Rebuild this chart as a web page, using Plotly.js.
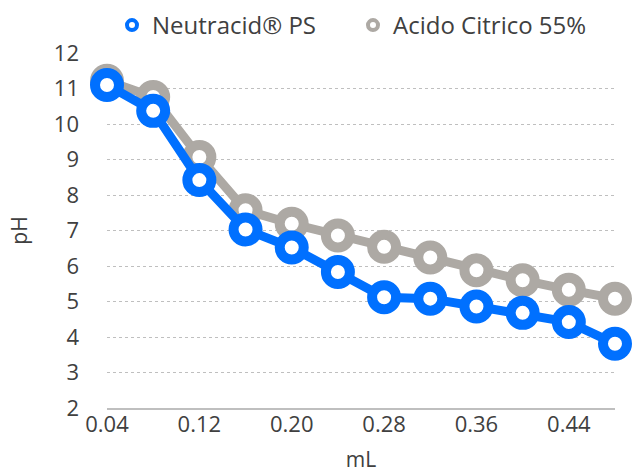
<!DOCTYPE html>
<html>
<head>
<meta charset="utf-8">
<script src="https://cdn.plot.ly/plotly-3.0.1.min.js"></script>
<style>html,body{margin:0;padding:0;background:#fff;}#chart{width:639px;height:473px;}</style>
</head>
<body>
<div id="chart"></div>
<script>
var volumes = [0.04, 0.08, 0.12, 0.16, 0.20, 0.24, 0.28, 0.32, 0.36, 0.40, 0.44, 0.48];
var neutracid = [11.1, 10.37, 8.42, 7.03, 6.52, 5.83, 5.12, 5.08, 4.86, 4.68, 4.42, 3.81];
var citrico = [11.22, 10.76, 9.07, 7.57, 7.19, 6.86, 6.54, 6.24, 5.88, 5.6, 5.33, 5.08];
var seriesNames = ['Neutracid® PS', 'Acido Citrico 55%'];
var xTicks = [0.04, 0.12, 0.20, 0.28, 0.36, 0.44];
var xTickText = ['0.04', '0.12', '0.20', '0.28', '0.36', '0.44'];
var yTicks = [2, 3, 4, 5, 6, 7, 8, 9, 10, 11, 12];

var fontFam = 'Open Sans, Lato, sans-serif';
var txtColor = '#404040';
var gray = '#ADA9A4';
var blue = '#0070FF';

function trace(y, name, color) {
  return {
    x: volumes, y: y, name: name, type: 'scatter', mode: 'lines+markers',
    cliponaxis: false, showlegend: false,
    line: {color: color, width: 9},
    marker: {symbol: 'circle', size: 24, color: '#ffffff', line: {color: color, width: 10}}
  };
}
function legendTrace(name, color) {
  return {
    x: [null], y: [null], name: name, type: 'scatter', mode: 'markers',
    showlegend: true,
    marker: {symbol: 'circle', size: 10, color: '#ffffff', line: {color: color, width: 4}}
  };
}

var data = [
  trace(citrico, seriesNames[1], gray),
  trace(neutracid, seriesNames[0], blue),
  legendTrace(seriesNames[0], blue),
  legendTrace(seriesNames[1], gray)
];

var layout = {
  width: 639, height: 473,
  margin: {l: 107, r: 24, t: 53, b: 65},
  paper_bgcolor: '#ffffff', plot_bgcolor: '#ffffff',
  font: {family: fontFam, color: txtColor, size: 22},
  showlegend: true,
  legend: {orientation: 'h', xref: 'container', yref: 'container',
           x: 112 / 639, xanchor: 'left', y: 1 - 3 / 473, yanchor: 'top',
           entrywidth: 196, entrywidthmode: 'pixels',
           font: {size: 24, color: txtColor}},
  xaxis: {
    range: [0.04, 0.48], tickvals: xTicks, ticktext: xTickText,
    showgrid: false, zeroline: false, showline: true, linecolor: '#BFBFBF', linewidth: 2,
    ticks: '', ticklabelstandoff: -4, tickfont: {size: 22, color: txtColor},
    title: {text: 'mL', font: {size: 21, color: txtColor}, standoff: 15}
  },
  yaxis: {
    range: [2, 12], tickvals: yTicks,
    showgrid: true, gridcolor: '#BFBFBF', griddash: 'dot', gridwidth: 1,
    zeroline: false, showline: false, ticks: '', ticklabelstandoff: 27,
    tickfont: {size: 22, color: txtColor},
    title: {text: 'pH', font: {size: 21, color: txtColor}, standoff: 20}
  }
};

Plotly.newPlot('chart', data, layout, {displayModeBar: false, staticPlot: true});
</script>
</body>
</html>
